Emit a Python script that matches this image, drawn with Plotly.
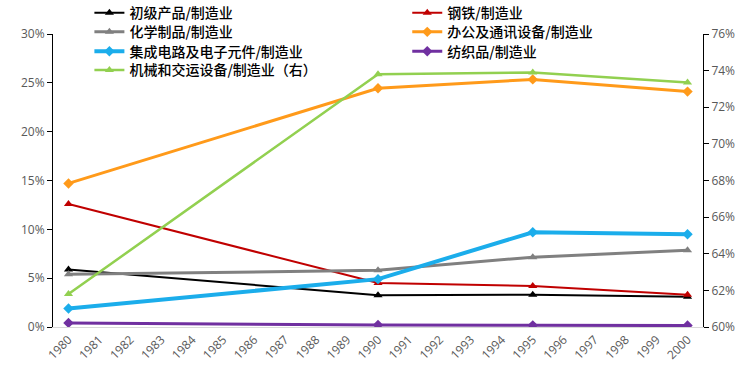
import plotly.graph_objects as go

years = [str(y) for y in range(1980, 2001)]
x_pts = ["1980", "1990", "1995", "2000"]

primary = [5.9, 3.25, 3.3, 3.1]        # 初级产品/制造业
steel = [12.6, 4.5, 4.2, 3.3]          # 钢铁/制造业
chem = [5.4, 5.8, 7.15, 7.85]          # 化学制品/制造业
office = [14.7, 24.45, 25.35, 24.1]    # 办公及通讯设备/制造业
ic = [1.9, 4.9, 9.7, 9.5]              # 集成电路及电子元件/制造业
textile = [0.42, 0.2, 0.17, 0.15]      # 纺织品/制造业
machine = [61.8, 73.8, 73.9, 73.35]    # 机械和交运设备/制造业（右）

series = [
    ("初级产品/制造业", primary, "#000000", 2, "triangle-up", "y"),
    ("钢铁/制造业", steel, "#C00000", 2, "triangle-up", "y"),
    ("化学制品/制造业", chem, "#808080", 3, "triangle-up", "y"),
    ("办公及通讯设备/制造业", office, "#FF9A1A", 3, "diamond", "y"),
    ("集成电路及电子元件/制造业", ic, "#1BADEB", 4, "diamond", "y"),
    ("纺织品/制造业", textile, "#7030A0", 3, "diamond", "y"),
    ("机械和交运设备/制造业（右）", machine, "#92D050", 2.5, "triangle-up", "y2"),
]

# legend slot per series: (paper x, paper y)
legend_pos = [
    (0.056, 1.071), (0.545, 1.071),
    (0.056, 1.006), (0.545, 1.006),
    (0.056, 0.940), (0.545, 0.940),
    (0.056, 0.876),
]

fig = go.Figure()
legend_layout = {}
for i, (name, vals, color, w, sym, ax) in enumerate(series):
    lname = "legend" if i == 0 else f"legend{i + 1}"
    fig.add_trace(go.Scatter(
        x=x_pts, y=vals, name=name, mode="lines+markers", yaxis=ax,
        line=dict(color=color, width=w),
        marker=dict(symbol=sym, size=8, color=color),
        legend=lname,
    ))
    lx, ly = legend_pos[i]
    legend_layout[lname] = dict(
        x=lx, y=ly, xanchor="left", yanchor="middle",
        font=dict(family="Noto Sans CJK SC", size=14, color="#000000", weight=500),
        bgcolor="rgba(0,0,0,0)", itemwidth=30,
    )

tickfont = dict(family="Open Sans, DejaVu Sans", size=12, color="#595959")
fig.update_layout(
    width=750, height=370,
    margin=dict(l=53, r=47, t=34, b=43, autoexpand=False),
    plot_bgcolor="white", paper_bgcolor="white",
    showlegend=True,
    xaxis=dict(type="category", categoryorder="array", categoryarray=years,
               tickvals=years, range=[-0.5, 20.5], tickangle=-45,
               showline=True, linecolor="#D9D9D9", linewidth=1,
               showgrid=False, ticks="", tickfont=tickfont),
    yaxis=dict(range=[0, 30], dtick=5, ticksuffix="%", showgrid=False,
               showline=True, linecolor="#000000", linewidth=1,
               ticks="outside", ticklen=5, tickcolor="#000000", tickfont=tickfont,
               zeroline=False),
    yaxis2=dict(range=[60, 76], dtick=2, ticksuffix="%", overlaying="y", side="right",
                showgrid=False, showline=True, linecolor="#000000", linewidth=1,
                ticks="outside", ticklen=5, tickcolor="#000000", tickfont=tickfont,
                zeroline=False),
    **legend_layout,
)

fig.write_html("out.html", config={"displayModeBar": False},
               post_script="document.body.style.margin='0';")
